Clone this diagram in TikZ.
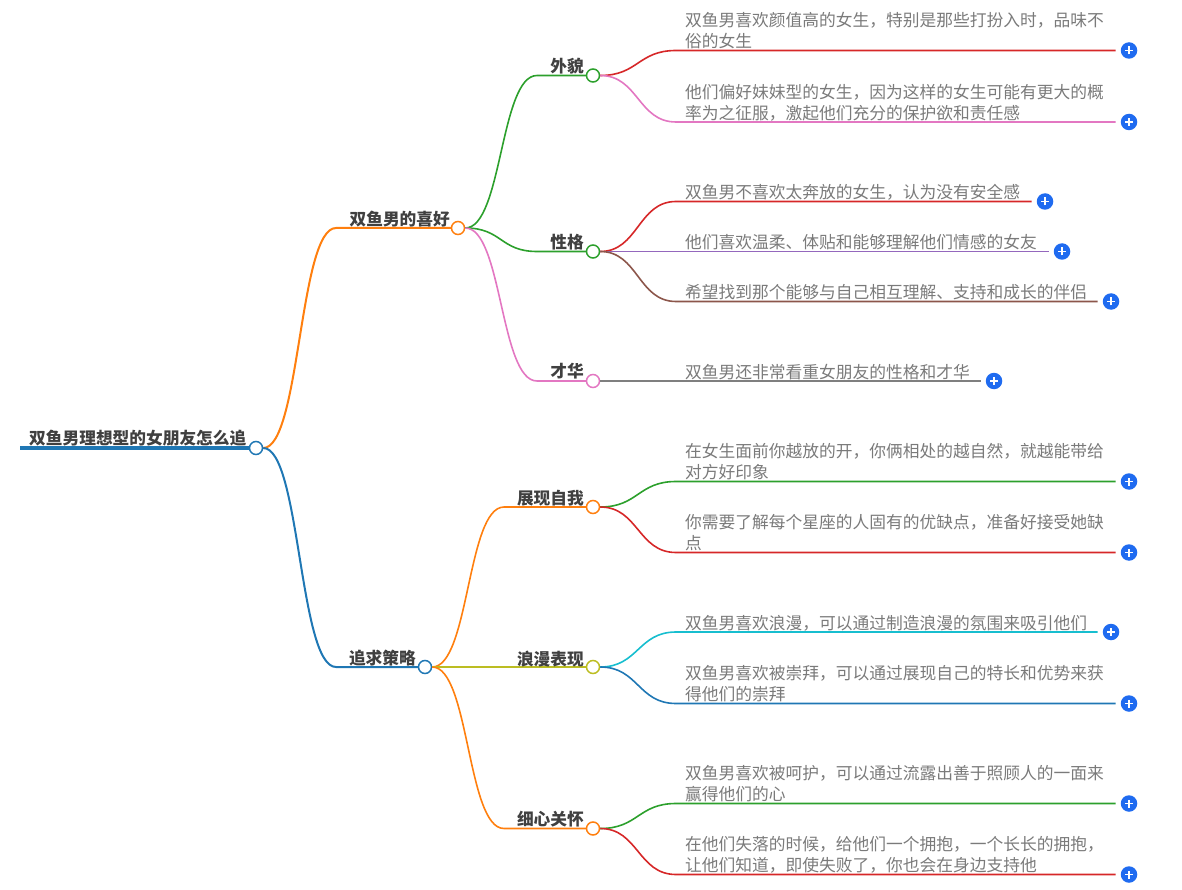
\documentclass[tikz,border=0pt]{standalone}
\usepackage{fontspec}
\setmainfont{Noto Sans CJK SC}
\definecolor{mblue}{HTML}{1F77B4}
\definecolor{morange}{HTML}{FF7F0E}
\definecolor{mgreen}{HTML}{2CA02C}
\definecolor{mred}{HTML}{D62728}
\definecolor{mpurple}{HTML}{9467BD}
\definecolor{mbrown}{HTML}{8C564B}
\definecolor{mpink}{HTML}{E377C2}
\definecolor{mgray}{HTML}{7F7F7F}
\definecolor{molive}{HTML}{BCBD22}
\definecolor{mcyan}{HTML}{17BECF}
\definecolor{plusblue}{HTML}{1F6BF0}
\tikzset{
	dot/.style={circle,draw=#1,fill=white,line width=1.5pt,minimum size=13pt,inner sep=0pt},
	plusdot/.style={circle,fill=plusblue,minimum size=16.5pt,inner sep=0pt,
		path picture={\draw[white,line width=1.5pt] ([xshift=-4pt]path picture bounding box.center) -- ([xshift=4pt]path picture bounding box.center);
			\draw[white,line width=1.5pt] ([yshift=-4pt]path picture bounding box.center) -- ([yshift=4pt]path picture bounding box.center);}},
	topic/.style={anchor=east,inner sep=0pt,text=black!75,font=\fontsize{16.7pt}{21pt}\selectfont\bfseries},
	leaf/.style={anchor=south west,inner sep=0pt,align=left,text=black!52,font=\fontsize{16.75pt}{21pt}\selectfont},
}
\begin{document}
\begin{tikzpicture}[x=1pt,y=-1pt]
	\useasboundingbox (0,0) rectangle (1182,890);
	
	% dots
	\node[dot=mblue] (root) at (256,448) {};
	\node[dot=morange] (likes) at (458,228) {};
	\node[dot=mblue] (pursue) at (425,667) {};
	\node[dot=mgreen] (looks) at (593,75.5) {};
	\node[dot=mgreen] (nature) at (593,251.5) {};
	\node[dot=mpink] (talent) at (593,381) {};
	\node[dot=morange] (show) at (593,507) {};
	\node[dot=molive] (romance) at (593,667) {};
	\node[dot=morange] (care) at (593,828.5) {};
	
	% plus buttons
	\node[plusdot] (p1) at (1129,50.5) {};
	\node[plusdot] (p2) at (1129,122) {};
	\node[plusdot] (p3) at (1045,201.5) {};
	\node[plusdot] (p4) at (1062,251.5) {};
	\node[plusdot] (p5) at (1111,301.5) {};
	\node[plusdot] (p6) at (994,381) {};
	\node[plusdot] (p7) at (1129,481.5) {};
	\node[plusdot] (p8) at (1129,552.5) {};
	\node[plusdot] (p9) at (1111,632) {};
	\node[plusdot] (p10) at (1129,703.5) {};
	\node[plusdot] (p11) at (1129,803.5) {};
	\node[plusdot] (p12) at (1129,874.5) {};
	
	% line ends
	\coordinate (start) at (20,448);
	\coordinate (e1) at (336,228);
	\coordinate (e2) at (336,667);
	\coordinate (e3) at (537,75.5);
	\coordinate (e4) at (537,251.5);
	\coordinate (e5) at (537,381);
	\coordinate (e6) at (504,507);
	\coordinate (e7) at (504,667);
	\coordinate (e8) at (504,828.5);
	
	\draw[mblue,line width=4pt] (start) -- (root.west);
	
	\foreach \a/\b/\c/\col in {root/e1/likes/morange,root/e2/pursue/mblue}
	\draw[\col,line width=2pt] (\a.east) .. controls +(37,0) and +(-37,0) .. (\b) -- (\c.west);
	
	\foreach \a/\b/\c/\col in {likes/e3/looks/mgreen,likes/e4/nature/mgreen,likes/e5/talent/mpink,pursue/e6/show/morange,pursue/e7/romance/molive,pursue/e8/care/morange}
	\draw[\col,line width=1.6pt] (\a.east) .. controls +(37,0) and +(-37,0) .. (\b) -- (\c.west);
	
	\foreach \a/\b/\col in {looks/p1/mred,looks/p2/mpink,nature/p3/mred,nature/p4/mpurple,nature/p5/mbrown,talent/p6/mgray,show/p7/mgreen,show/p8/mred,romance/p9/mcyan,romance/p10/mblue,care/p11/mgreen,care/p12/mred}
	\draw[\col,line width=1.6pt] (\a.east) .. controls +(38,0) and +(-38,0) .. (676,0 |- \b.west) -- ([xshift=-13.5pt]\b.center);
	
	% branch labels
	\node[topic] (rootlabel) at (246.5,438) {双鱼男理想型的女朋友怎么追};
	\node[topic] (likeslabel) at (450,219) {双鱼男的喜好};
	\node[topic] (pursuelabel) at (416,658) {追求策略};
	\node[topic] (lookslabel) at (584,66) {外貌};
	\node[topic] (naturelabel) at (584,242) {性格};
	\node[topic] (talentlabel) at (584,371) {才华};
	\node[topic] (showlabel) at (584,498) {展现自我};
	\node[topic] (romancelabel) at (584,659) {浪漫表现};
	\node[topic] (carelabel) at (584,819) {细心关怀};
	
	% leaf texts
	\node[leaf] (t1) at (685,49.5) {双鱼男喜欢颜值高的女生，特别是那些打扮入时，品味不\\俗的女生};
	\node[leaf] (t2) at (685,121) {他们偏好妹妹型的女生，因为这样的女生可能有更大的概\\率为之征服，激起他们充分的保护欲和责任感};
	\node[leaf] (t3) at (685,200) {双鱼男不喜欢太奔放的女生，认为没有安全感};
	\node[leaf] (t4) at (685,250.5) {他们喜欢温柔、体贴和能够理解他们情感的女友};
	\node[leaf] (t5) at (685,300.5) {希望找到那个能够与自己相互理解、支持和成长的伴侣};
	\node[leaf] (t6) at (685,380) {双鱼男还非常看重女朋友的性格和才华};
	\node[leaf] (t7) at (685,480.5) {在女生面前你越放的开，你俩相处的越自然，就越能带给\\对方好印象};
	\node[leaf] (t8) at (685,551.5) {你需要了解每个星座的人固有的优缺点，准备好接受她缺\\点};
	\node[leaf] (t9) at (685,631) {双鱼男喜欢浪漫，可以通过制造浪漫的氛围来吸引他们};
	\node[leaf] (t10) at (685,702.5) {双鱼男喜欢被崇拜，可以通过展现自己的特长和优势来获\\得他们的崇拜};
	\node[leaf] (t11) at (685,802.5) {双鱼男喜欢被呵护，可以通过流露出善于照顾人的一面来\\赢得他们的心};
	\node[leaf] (t12) at (685,873.5) {在他们失落的时候，给他们一个拥抱，一个长长的拥抱，\\让他们知道，即使失败了，你也会在身边支持他};
\end{tikzpicture}
\end{document}
